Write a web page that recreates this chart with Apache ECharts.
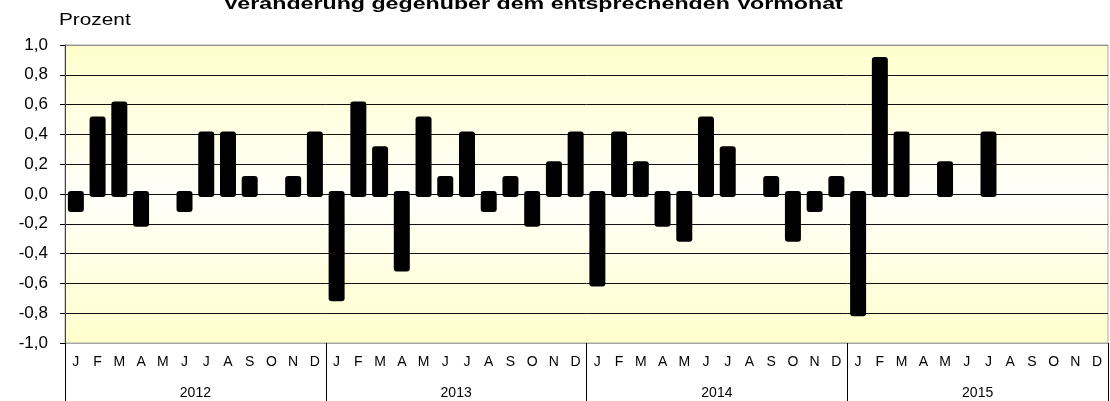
<!DOCTYPE html>
<html>
<head>
<meta charset="utf-8">
<script src="https://cdn.jsdelivr.net/npm/echarts@6/dist/echarts.min.js"></script>
<style>
  html, body { margin: 0; padding: 0; background: #fff; }
  #chart { width: 1110px; height: 401px; }
</style>
</head>
<body>
<div id="chart"></div>
<script>
// ---- Data ----
const titleText = 'Veränderung gegenüber dem entsprechenden Vormonat';
const unitLabel = 'Prozent';
const years = ['2012', '2013', '2014', '2015'];
const monthLetters = ['J', 'F', 'M', 'A', 'M', 'J', 'J', 'A', 'S', 'O', 'N', 'D'];
const values2012 = [-0.1, 0.5, 0.6, -0.2, 0.0, -0.1, 0.4, 0.4, 0.1, 0.0, 0.1, 0.4];
const values2013 = [-0.7, 0.6, 0.3, -0.5, 0.5, 0.1, 0.4, -0.1, 0.1, -0.2, 0.2, 0.4];
const values2014 = [-0.6, 0.4, 0.2, -0.2, -0.3, 0.5, 0.3, 0.0, 0.1, -0.3, -0.1, 0.1];
const values2015 = [-0.8, 0.9, 0.4, 0.0, 0.2, 0.0, 0.4, null, null, null, null, null];
const yMin = -1.0;
const yMax = 1.0;
const yStep = 0.2;

// ---- Build ----
const categories = [];
years.forEach(function () { monthLetters.forEach(function (m) { categories.push(m); }); });
const allValues = [].concat(values2012, values2013, values2014, values2015);
const seriesData = allValues.map(function (v, i) {
  return [i, v === null ? '-' : v];
});

const FONT = '"Liberation Sans", Arial, Helvetica, sans-serif';
const BAR_W = 16;   // visual bar width in px
const CAP = 3;      // rounded overshoot beyond value / zero line

const chart = echarts.init(document.getElementById('chart'), null, { renderer: 'canvas' });

chart.setOption({
  animation: false,
  backgroundColor: '#ffffff',
  textStyle: { fontFamily: FONT, color: '#000' },
  graphic: [{
    type: 'text',
    x: 533,
    y: 4.5,
    scaleX: 1.45,
    z: 100,
    style: {
      text: titleText,
      fontFamily: FONT,
      fontSize: 16,
      fontWeight: 'bold',
      fill: '#000',
      align: 'center',
      verticalAlign: 'middle'
    }
  }, {
    type: 'text',
    x: 59,
    y: 21,
    scaleX: 1.3,
    z: 100,
    style: {
      text: unitLabel,
      fontFamily: FONT,
      fontSize: 16,
      fill: '#000',
      align: 'left',
      verticalAlign: 'middle'
    }
  }],
  grid: {
    left: 65,
    right: 2,
    top: 45,
    bottom: 58,
    show: true,
    borderColor: '#a6a6a6',
    borderWidth: 1,
    backgroundColor: {
      type: 'linear', x: 0, y: 0, x2: 0, y2: 1,
      colorStops: [
        { offset: 0, color: '#ffffcc' },
        { offset: 0.5, color: '#fffffa' },
        { offset: 1, color: '#ffffcc' }
      ]
    }
  },
  xAxis: [{
    type: 'category',
    data: categories,
    position: 'bottom',
    boundaryGap: true,
    axisLine: { show: true, onZero: false, lineStyle: { color: '#a6a6a6', width: 1 } },
    axisTick: {
      show: true,
      interval: function (index) { return index % 12 === 0; },
      length: 58,
      lineStyle: { color: '#000', width: 1 }
    },
    axisLabel: { interval: 0, fontSize: 14, color: '#000', margin: 12, fontFamily: FONT },
    splitLine: { show: false }
  }, {
    type: 'category',
    data: years,
    position: 'bottom',
    offset: 31,
    boundaryGap: true,
    axisLine: { show: false, onZero: false },
    axisTick: { show: false },
    axisLabel: { interval: 0, fontSize: 14, color: '#000', margin: 12, fontFamily: FONT },
    splitLine: { show: false }
  }],
  yAxis: {
    type: 'value',
    min: yMin,
    max: yMax,
    interval: yStep,
    axisLine: { show: true, lineStyle: { color: '#404040', width: 1 } },
    axisTick: { show: true, inside: false, length: 5, lineStyle: { color: '#000' } },
    axisLabel: {
      fontSize: 17,
      color: '#000',
      margin: 17,
      fontFamily: FONT,
      formatter: function (v) { return v.toFixed(1).replace('.', ','); }
    },
    splitLine: {
      show: true,
      lineStyle: {
        color: ['#909090', '#111', '#111', '#111', '#111', '#111', '#111', '#111', '#111', '#111', '#909090'],
        width: 1
      }
    }
  },
  series: [{
    type: 'custom',
    xAxisIndex: 0,
    yAxisIndex: 0,
    encode: { x: 0, y: 1 },
    data: seriesData,
    renderItem: function (params, api) {
      const v = api.value(1);
      if (v === 0 || v === null || isNaN(v)) return null;
      const p0 = api.coord([api.value(0), 0]);
      const p1 = api.coord([api.value(0), v]);
      const top = Math.min(p0[1], p1[1]) - CAP;
      const bottom = Math.max(p0[1], p1[1]) + CAP;
      return {
        type: 'rect',
        shape: { x: p0[0] - BAR_W / 2, y: top, width: BAR_W, height: bottom - top, r: 3 },
        style: { fill: '#000' }
      };
    },
    emphasis: { disabled: true }
  }]
});
</script>
</body>
</html>
